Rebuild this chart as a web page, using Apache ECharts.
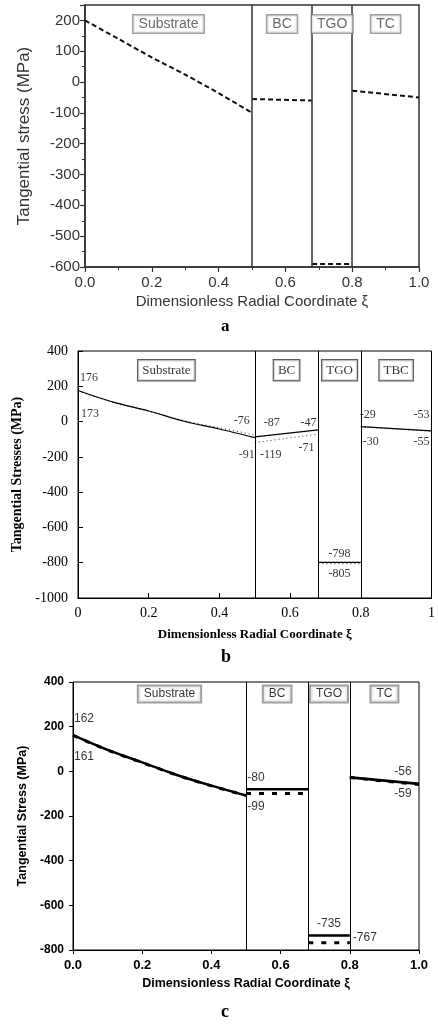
<!DOCTYPE html>
<html>
<head>
<meta charset="utf-8">
<script src="https://cdn.jsdelivr.net/npm/echarts@6/dist/echarts.min.js"></script>
<style>
  html, body { margin: 0; padding: 0; background: #fff; }
  #chart { width: 438px; height: 1024px; }
</style>
</head>
<body>
<div id="chart"></div>
<script>
// layer interfaces along the dimensionless radial coordinate
const boundaries = [0.5, 0.68, 0.8];
const layersA = ['Substrate', 'BC', 'TGO', 'TC'];
const layersB = ['Substrate', 'BC', 'TGO', 'TBC'];
const layersC = ['Substrate', 'BC', 'TGO', 'TC'];

// substrate curve sample positions
const xiSubstrate = [0, 0.1, 0.2, 0.3, 0.4, 0.5];

// (a) dashed curve, MPa
const aSubstrate = [200, 140, 80, 24, -36, -100];
const aBC = [[0.5, -55], [0.68, -60]];
const aTGO = [[0.68, -590], [0.8, -590]];
const aTC = [[0.8, -28], [1.0, -50]];

// (b) solid and dotted curves, MPa
const bSubstrateSolid = [176, 110, 60, 2, -42, -91];
const bSubstrateDotted = [173, 108, 58, 5, -35, -76];
const bBCSolid = [[0.5, -87], [0.68, -47]];
const bBCDotted = [[0.5, -119], [0.68, -71]];
const bTGOSolid = [[0.68, -798], [0.8, -798]];
const bTGODotted = [[0.68, -805], [0.8, -805]];
const bTBCSolid = [[0.8, -29], [1.0, -53]];
const bTBCDotted = [[0.8, -30], [1.0, -55]];

// (c) solid and dashed curves, MPa
const cSubstrateSolid = [162, 96, 40, -16, -64, -108];
const cSubstrateDashed = [161, 95, 39, -17, -65, -108];
const cBCSolid = [[0.5, -80], [0.68, -80]];
const cBCDashed = [[0.5, -99], [0.68, -99]];
const cTGOSolid = [[0.68, -735], [0.8, -735]];
const cTGODashed = [[0.68, -767], [0.8, -767]];
const cTCSolid = [[0.8, -27], [1.0, -56]];
const cTCDashed = [[0.8, -28], [1.0, -59]];

const chart = echarts.init(document.getElementById('chart'));

const SANS = 'Liberation Sans, Arial, sans-serif';
const SERIF = 'Liberation Serif, Times New Roman, serif';

function pairs(xs, ys) {
  return xs.map((x, i) => [x, ys[i]]);
}
function mid(seg) {
  return [(seg[0][0] + seg[1][0]) / 2, seg[0][1]];
}

function line(idx, data, style, smooth) {
  return {
    type: 'line', xAxisIndex: idx, yAxisIndex: idx, data: data,
    symbol: 'none', showSymbol: false, smooth: smooth ? 0.3 : false,
    lineStyle: style, silent: true, z: 3
  };
}

function dividers(idx, color, width) {
  return {
    type: 'line', xAxisIndex: idx, yAxisIndex: idx, data: [], silent: true,
    markLine: {
      symbol: 'none', silent: true, animation: false,
      label: { show: false },
      lineStyle: { color: color, width: width, type: 'solid' },
      data: boundaries.map(x => ({ xAxis: x }))
    }
  };
}

// value tag: text is the point's own value
function tag(pt, dx, dy) {
  return { value: pt, text: String(pt[1]), label: { offset: [dx, dy] } };
}

function notes(idx, items, font) {
  return {
    type: 'scatter', xAxisIndex: idx, yAxisIndex: idx, symbolSize: 1, silent: true, z: 6,
    itemStyle: { color: 'rgba(0,0,0,0)' },
    label: Object.assign({ show: true, position: 'inside', color: '#000', formatter: p => p.data.text }, font),
    data: items
  };
}

function layerBoxes(idx, names, yv, box, shifts) {
  const edges = [0].concat(boundaries, [1]);
  return {
    type: 'scatter', xAxisIndex: idx, yAxisIndex: idx, symbolSize: 1, silent: true, z: 6,
    itemStyle: { color: 'rgba(0,0,0,0)' },
    label: Object.assign({ show: true, position: 'inside', formatter: p => p.name, backgroundColor: '#fff' }, box),
    data: names.map((n, i) => ({
      name: n,
      value: [(edges[i] + edges[i + 1]) / 2, yv],
      label: { offset: [(shifts && shifts[i]) || 0, 0] }
    }))
  };
}

function xAxisFor(idx, o) {
  return Object.assign({
    type: 'value', gridIndex: idx, min: 0, max: 1, interval: 0.2,
    name: 'Dimensionless Radial Coordinate ξ', nameLocation: 'middle',
    splitLine: { show: false }
  }, o);
}
function yAxisFor(idx, o) {
  return Object.assign({
    type: 'value', gridIndex: idx, nameLocation: 'middle',
    splitLine: { show: false }
  }, o);
}

const dashA = { color: '#111', width: 2, type: [5, 3] };
const solidB = { color: '#000', width: 1.2, type: 'solid' };
const dotB = { color: '#333', width: 1, type: [1, 3] };
const solidC = { color: '#000', width: 2.6, type: 'solid' };
const dashC = { color: '#000', width: 3, type: [5, 8] };

const option = {
  animation: false,
  backgroundColor: '#fff',
  grid: [
    { left: 85, top: 5, width: 334, height: 262, show: true, borderColor: '#333', borderWidth: 1.5, backgroundColor: 'transparent' },
    { left: 78, top: 351, width: 355, height: 247, show: true, borderColor: '#000', borderWidth: 1, backgroundColor: 'transparent' },
    { left: 73, top: 682, width: 346, height: 268, show: true, borderColor: '#000', borderWidth: 1, backgroundColor: 'transparent' }
  ],
  xAxis: [
    xAxisFor(0, {
      nameGap: 27,
      nameTextStyle: { fontFamily: SANS, fontSize: 15, color: '#333' },
      axisLine: { onZero: false, lineStyle: { color: '#333', width: 1.5 } },
      axisTick: { inside: false, length: 5, lineStyle: { color: '#333', width: 1.2 } },
      minorTick: { show: true, splitNumber: 2, length: 3, lineStyle: { color: '#333' } },
      axisLabel: { margin: 8, fontFamily: SANS, fontSize: 15, color: '#333', formatter: v => v.toFixed(1) }
    }),
    xAxisFor(1, {
      nameGap: 30,
      nameTextStyle: { fontFamily: SERIF, fontSize: 13, fontWeight: 'bold', color: '#000' },
      axisLine: { onZero: false, lineStyle: { color: '#000', width: 1 } },
      axisTick: { inside: true, length: 5, lineStyle: { color: '#000' } },
      axisLabel: { margin: 8, fontFamily: SERIF, fontSize: 14, color: '#000', formatter: v => String(v) }
    }),
    xAxisFor(2, {
      nameGap: 27,
      nameTextStyle: { fontFamily: SANS, fontSize: 12.5, fontWeight: 'bold', color: '#000' },
      axisLine: { onZero: false, lineStyle: { color: '#000', width: 1 } },
      axisTick: { inside: false, length: 4, lineStyle: { color: '#000' } },
      axisLabel: { margin: 9, fontFamily: SANS, fontSize: 13, fontWeight: 'bold', color: '#000', formatter: v => v.toFixed(1) }
    })
  ],
  yAxis: [
    yAxisFor(0, {
      min: -600, max: 250, interval: 100,
      name: 'Tangential stress (MPa)', nameGap: 52,
      nameTextStyle: { fontFamily: SANS, fontSize: 17, color: '#333' },
      axisLine: { show: true, onZero: false, lineStyle: { color: '#333', width: 1.5 } },
      axisTick: { show: true, inside: false, length: 5, lineStyle: { color: '#333', width: 1.2 } },
      minorTick: { show: true, splitNumber: 2, length: 3, lineStyle: { color: '#333' } },
      axisLabel: { margin: 5, fontFamily: SANS, fontSize: 15, color: '#333', formatter: v => (v % 100 === 0 ? String(v) : '') }
    }),
    yAxisFor(1, {
      min: -1000, max: 400, interval: 200,
      name: 'Tangential Stresses (MPa)', nameGap: 50,
      nameTextStyle: { fontFamily: SERIF, fontSize: 14, fontWeight: 'bold', color: '#000' },
      axisLine: { show: true, onZero: false, lineStyle: { color: '#000', width: 1 } },
      axisTick: { show: true, inside: true, length: 5, lineStyle: { color: '#000' } },
      axisLabel: { margin: 10, fontFamily: SERIF, fontSize: 14, color: '#000', formatter: v => String(v) }
    }),
    yAxisFor(2, {
      min: -800, max: 400, interval: 200,
      name: 'Tangential Stress (MPa)', nameGap: 42,
      nameTextStyle: { fontFamily: SANS, fontSize: 12.5, fontWeight: 'bold', color: '#000' },
      axisLine: { show: true, onZero: false, lineStyle: { color: '#000', width: 1 } },
      axisTick: { show: true, inside: false, length: 4, lineStyle: { color: '#000' } },
      axisLabel: { margin: 9, fontFamily: SANS, fontSize: 12, fontWeight: 'bold', color: '#000', formatter: v => String(v) }
    })
  ],
  graphic: [
    { type: 'text', left: 221, top: 318, style: { text: 'a', font: 'bold 17px ' + SERIF, fill: '#000' } },
    { type: 'text', left: 221, top: 648, style: { text: 'b', font: 'bold 18px ' + SERIF, fill: '#000' } },
    { type: 'text', left: 221, top: 1003, style: { text: 'c', font: 'bold 18px ' + SERIF, fill: '#000' } }
  ],
  series: [
    // (a)
    dividers(0, '#333', 1.5),
    line(0, pairs(xiSubstrate, aSubstrate), dashA, true),
    line(0, aBC, dashA),
    line(0, aTGO, dashA),
    line(0, aTC, dashA),
    layerBoxes(0, layersA, 188, {
      fontFamily: SANS, fontSize: 14, color: '#444',
      borderColor: '#888', borderWidth: 1.5, padding: [2, 5, 1, 5]
    }),

    // (b)
    dividers(1, '#000', 1),
    line(1, pairs(xiSubstrate, bSubstrateDotted), dotB, true),
    line(1, pairs(xiSubstrate, bSubstrateSolid), solidB, true),
    line(1, bBCDotted, dotB),
    line(1, bBCSolid, solidB),
    line(1, bTGODotted, dotB),
    line(1, bTGOSolid, solidB),
    line(1, bTBCDotted, dotB),
    line(1, bTBCSolid, solidB),
    layerBoxes(1, layersB, 291, {
      fontFamily: SERIF, fontSize: 13, color: '#000',
      borderColor: '#333', borderWidth: 1.2, padding: [4, 4, 3, 4]
    }),
    notes(1, [
      tag([0, bSubstrateSolid[0]], 11, -13),
      tag([0, bSubstrateDotted[0]], 12, 23),
      tag([0.5, bSubstrateDotted[5]], -13, -14),
      tag([0.5, bSubstrateSolid[5]], -8, 17),
      tag(bBCSolid[0], 17, -14),
      tag(bBCDotted[0], 16, 12),
      tag(bBCSolid[1], -10, -7),
      tag(bBCDotted[1], -12, 14),
      tag(bTBCSolid[0], 7, -12),
      tag(bTBCSolid[1], -10, -16),
      tag(bTBCDotted[0], 10, 15),
      tag(bTBCDotted[1], -10, 11),
      tag(mid(bTGOSolid), 0, -9),
      tag(mid(bTGODotted), 0, 10)
    ], { fontFamily: SERIF, fontSize: 12 }),

    // (c)
    dividers(2, '#000', 1),
    line(2, pairs(xiSubstrate, cSubstrateDashed), dashC, true),
    line(2, pairs(xiSubstrate, cSubstrateSolid), solidC, true),
    line(2, cBCDashed, dashC),
    line(2, cBCSolid, solidC),
    line(2, cTGODashed, dashC),
    line(2, cTGOSolid, solidC),
    line(2, cTCDashed, dashC),
    line(2, cTCSolid, solidC),
    layerBoxes(2, layersC, 346, {
      fontFamily: SANS, fontSize: 12, color: '#000',
      borderColor: '#888', borderWidth: 2, padding: [2, 5, 1, 5]
    }, [10, 0, 0, 0]),
    notes(2, [
      tag([0, cSubstrateSolid[0]], 11, -16),
      tag([0, cSubstrateDashed[0]], 11, 21),
      tag(cBCSolid[0], 10, -12),
      tag(cBCDashed[0], 10, 13),
      tag(mid(cTGOSolid), 0, -12),
      tag(cTGODashed[1], 15, -5),
      tag(cTCSolid[1], -16, -12),
      tag(cTCDashed[1], -16, 9)
    ], { fontFamily: SANS, fontSize: 12 })
  ]
};

chart.setOption(option);
</script>
</body>
</html>
